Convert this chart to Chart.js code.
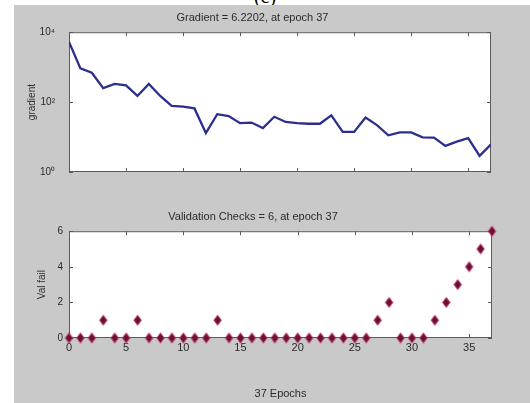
<!DOCTYPE html>
<html>
<head>
<meta charset="utf-8">
<script src="https://cdn.jsdelivr.net/npm/chart.js@4.4.1/dist/chart.umd.min.js"></script>
<style>
  html, body { margin: 0; padding: 0; background: #fff; }
  #page { position: relative; width: 530px; height: 403px; overflow: hidden; }
  #caption { position: absolute; left: 0; width: 530px; top: -15px; text-align: center;
             font: 20px 'Liberation Serif', serif; color: #000; }
  #figure { position: absolute; left: 14px; top: 5px; width: 516px; height: 398px; background: #c9c9c9; }
  canvas { position: absolute; left: 0; }
  #gradChart { top: 0; }
  #valChart { top: 200px; }
</style>
</head>
<body>
<div id="page">
  <div id="caption">(c)</div>
  <div id="figure"></div>
  <canvas id="gradChart" width="530" height="200"></canvas>
  <canvas id="valChart" width="530" height="203"></canvas>
</div>
<script>
'use strict';

// data
const epochs = [0, 1, 2, 3, 4, 5, 6, 7, 8, 9, 10, 11, 12, 13, 14, 15, 16, 17, 18,
  19, 20, 21, 22, 23, 24, 25, 26, 27, 28, 29, 30, 31, 32, 33, 34, 35, 36, 37];
const gradient = [5300, 920, 690, 250, 330, 300, 150, 330, 150, 78, 74, 66, 13, 45,
  40, 25, 26, 18, 38, 27, 25, 24, 24, 42, 14, 14, 36, 22, 11.2, 13.6, 13.6, 9.8,
  9.6, 5.6, 7.4, 9.3, 2.9, 6.2202];
const valFail = [0, 0, 0, 1, 0, 0, 1, 0, 0, 0, 0, 0, 0, 1, 0, 0, 0, 0, 0, 0, 0, 0,
  0, 0, 0, 0, 0, 1, 2, 0, 0, 0, 1, 2, 3, 4, 5, 6];
const epochTicks = [0, 5, 10, 15, 20, 25, 30, 35];
const gradTicks = [1, 100, 10000];
const gradTickLabels = ['10\u2070', '10\u00b2', '10\u2074'];
const valTicks = [0, 2, 4, 6];

const textColor = '#2b2b2b';
const fontFamily = "'Liberation Sans', Arial, sans-serif";

// white axes box with inward tick marks, like the matlab plot
const axesBox = {
  id: 'axesBox',
  beforeDraw(chart) {
    const a = chart.chartArea;
    const ctx = chart.ctx;
    ctx.save();
    ctx.fillStyle = '#fff';
    ctx.fillRect(a.left, a.top, a.right - a.left, a.bottom - a.top);
    ctx.restore();
  },
  beforeDatasetsDraw(chart) {
    const a = chart.chartArea;
    const ctx = chart.ctx;
    ctx.save();
    ctx.strokeStyle = '#5a5a5a';
    ctx.lineWidth = 1;
    ctx.strokeRect(a.left + 0.5, a.top + 0.5, a.right - a.left - 1, a.bottom - a.top - 1);
    ctx.beginPath();
    chart.scales.x.ticks.forEach(t => {
      const px = Math.round(chart.scales.x.getPixelForValue(t.value)) + 0.5;
      ctx.moveTo(px, a.top); ctx.lineTo(px, a.top + 4);
      ctx.moveTo(px, a.bottom); ctx.lineTo(px, a.bottom - 4);
    });
    chart.scales.y.ticks.forEach(t => {
      const py = Math.round(chart.scales.y.getPixelForValue(t.value)) + 0.5;
      ctx.moveTo(a.left, py); ctx.lineTo(a.left + 4, py);
      ctx.moveTo(a.right, py); ctx.lineTo(a.right - 4, py);
    });
    ctx.stroke();
    ctx.restore();
  }
};

// matlab style diamond marker
function makeDiamond() {
  const c = document.createElement('canvas');
  c.width = 11;
  c.height = 13;
  const g = c.getContext('2d');
  g.beginPath();
  g.moveTo(5.5, 0.5); g.lineTo(10, 6.5); g.lineTo(5.5, 12.5); g.lineTo(1, 6.5);
  g.closePath();
  g.fillStyle = 'rgba(220, 60, 120, 0.35)';
  g.fill();
  g.beginPath();
  g.moveTo(5.5, 1.8); g.lineTo(9, 6.5); g.lineTo(5.5, 11.2); g.lineTo(2, 6.5);
  g.closePath();
  g.fillStyle = '#6a1036';
  g.fill();
  g.strokeStyle = '#b0245c';
  g.lineWidth = 1;
  g.stroke();
  return c;
}

function fixedTicks(values) {
  return function (scale) {
    scale.ticks = values.map(v => ({ value: v }));
  };
}

const gradChart = new Chart(document.getElementById('gradChart'), {
  type: 'line',
  data: {
    datasets: [{
      data: epochs.map((e, i) => ({ x: e, y: gradient[i] })),
      borderColor: '#2c2e8c',
      borderWidth: 2.3,
      pointRadius: 0,
      tension: 0
    }]
  },
  options: {
    responsive: false,
    animation: false,
    layout: { padding: { left: 14, right: 39, top: 6, bottom: 0 } },
    plugins: {
      legend: { display: false },
      tooltip: { enabled: false },
      title: {
        display: true,
        text: 'Gradient = 6.2202, at epoch 37',
        color: textColor,
        font: { family: fontFamily, size: 11, weight: 'normal' },
        padding: { top: 5, bottom: 8 }
      }
    },
    scales: {
      x: {
        type: 'linear',
        min: 0,
        max: 37,
        afterBuildTicks: fixedTicks(epochTicks),
        afterFit: s => { s.height = 28; },
        grid: { display: false },
        border: { display: false },
        ticks: { display: false }
      },
      y: {
        type: 'logarithmic',
        min: 1,
        max: 10000,
        afterBuildTicks: fixedTicks(gradTicks),
        afterFit: s => { s.width = 55; },
        grid: { display: false },
        border: { display: false },
        title: {
          display: true,
          text: 'gradient',
          color: textColor,
          font: { family: fontFamily, size: 10 },
          padding: { top: 12, bottom: 0 }
        },
        ticks: {
          color: textColor,
          padding: 6,
          font: { family: fontFamily, size: 10 },
          callback: v => gradTickLabels[gradTicks.indexOf(v)]
        }
      }
    }
  },
  plugins: [axesBox]
});

const valChart = new Chart(document.getElementById('valChart'), {
  type: 'scatter',
  data: {
    datasets: [{
      data: epochs.map((e, i) => ({ x: e, y: valFail[i] })),
      pointStyle: makeDiamond(),
      pointRadius: 6,
      clip: false
    }]
  },
  options: {
    responsive: false,
    animation: false,
    layout: { padding: { left: 14, right: 38, top: 0, bottom: 0 } },
    plugins: {
      legend: { display: false },
      tooltip: { enabled: false },
      title: {
        display: true,
        text: 'Validation Checks = 6, at epoch 37',
        color: textColor,
        font: { family: fontFamily, size: 11, weight: 'normal' },
        padding: { top: 10, bottom: 8 }
      }
    },
    scales: {
      x: {
        type: 'linear',
        min: 0,
        max: 37,
        afterBuildTicks: fixedTicks(epochTicks),
        afterFit: s => { s.height = 65; },
        grid: { display: false, drawTicks: false },
        border: { display: false },
        title: {
          display: true,
          text: '37 Epochs',
          color: textColor,
          font: { family: fontFamily, size: 11 },
          padding: { top: 0, bottom: 2 }
        },
        ticks: {
          color: textColor,
          padding: 3,
          font: { family: fontFamily, size: 11 }
        }
      },
      y: {
        type: 'linear',
        min: 0,
        max: 6,
        afterBuildTicks: fixedTicks(valTicks),
        afterFit: s => { s.width = 55; },
        grid: { display: false, drawTicks: false },
        border: { display: false },
        title: {
          display: true,
          text: 'Val fail',
          color: textColor,
          font: { family: fontFamily, size: 10 },
          padding: { top: 22, bottom: 0 }
        },
        ticks: {
          color: textColor,
          padding: 6,
          font: { family: fontFamily, size: 10 }
        }
      }
    }
  },
  plugins: [axesBox]
});
</script>
</body>
</html>
